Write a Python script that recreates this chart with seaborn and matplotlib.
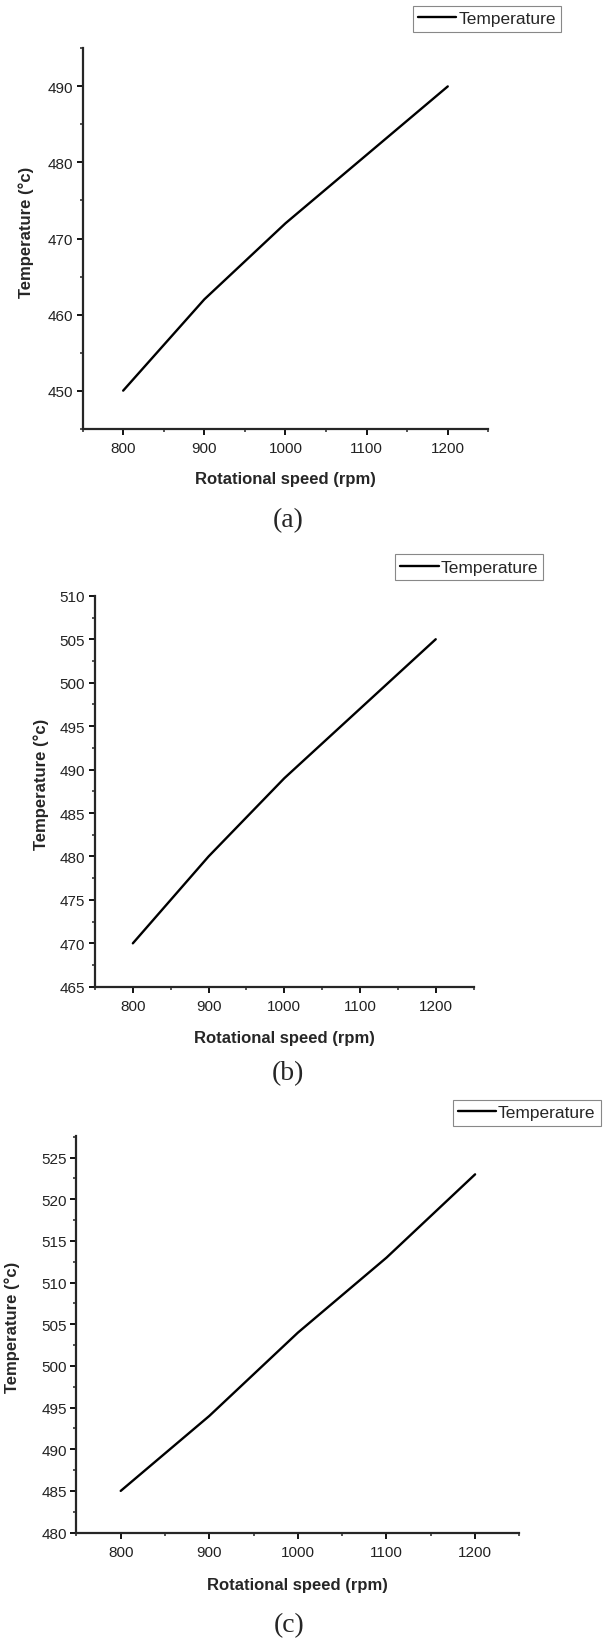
import pandas as pd
import matplotlib
matplotlib.use("Agg")
import matplotlib.pyplot as plt
from matplotlib.ticker import MultipleLocator
import seaborn as sns

# Data
speed = [800, 900, 1000, 1100, 1200]
temp_a = [450, 462, 472, 481, 490]
temp_b = [470, 480, 489, 497, 505]
temp_c = [485, 494, 504, 513, 523]

captions = ["(a)", "(b)", "(c)"]
ylims = [(445, 495), (465, 510), (480, 527.6)]
ymajor = [10, 5, 5]

sns.set_style("ticks")
plt.rcParams["font.family"] = ["Liberation Sans", "DejaVu Sans"]

fig = plt.figure(figsize=(6.05, 16.4), dpi=100)

# axes rectangles in figure fractions, legend anchors, caption y
rects = [[0.1365, 0.7380, 0.6707, 0.2319],
         [0.1570, 0.3977, 0.6258, 0.2384],
         [0.1263, 0.0649, 0.7322, 0.2418]]
leg_anchor = [(0.927, 0.9957), (0.8975, 0.6613), (0.993, 0.3287)]
cap_pos = [(0.476, 1 - 521 / 1640), (0.476, 1 - 1074 / 1640), (0.478, 1 - 1626 / 1640)]
ylab_x = [-0.139, -0.141, -0.1445]
ylab_y = [0.52, 0.52, 0.52]

for i, temps in enumerate([temp_a, temp_b, temp_c]):
    df = pd.DataFrame({"Rotational speed (rpm)": speed, "Temperature": temps})
    ax = fig.add_axes(rects[i])
    sns.lineplot(data=df, x="Rotational speed (rpm)", y="Temperature",
                 color="black", linewidth=1.7, ax=ax, label="Temperature")

    ax.set_xlim(750, 1250)
    ax.set_ylim(*ylims[i])
    ax.xaxis.set_major_locator(MultipleLocator(100))
    ax.xaxis.set_minor_locator(MultipleLocator(50))
    ax.yaxis.set_major_locator(MultipleLocator(ymajor[i]))
    ax.yaxis.set_minor_locator(MultipleLocator(ymajor[i] / 2))

    sns.despine(ax=ax)
    for s in ["left", "bottom"]:
        ax.spines[s].set_linewidth(1.6)
    ax.tick_params(which="major", direction="out", length=4, width=1.3,
                   labelsize=11, pad=3, colors="black", labelcolor="#222222")
    ax.tick_params(which="minor", direction="out", length=2.5, width=1.1)
    ax.tick_params(axis="x", which="major", pad=5)

    ax.set_xlabel("Rotational speed (rpm)", fontsize=12, fontweight="bold", va="center")
    ax.set_ylabel("Temperature (°c)", fontsize=12, fontweight="bold", va="center")
    ax.xaxis.set_label_coords(0.5, -0.13)
    ax.yaxis.set_label_coords(ylab_x[i], ylab_y[i])

    leg = ax.legend(loc="upper right", bbox_to_anchor=leg_anchor[i],
                    bbox_transform=fig.transFigure, fontsize=12.5,
                    frameon=True, fancybox=False, framealpha=1,
                    edgecolor="#888888", borderpad=0.3, handlelength=2.2,
                    handletextpad=0.1, borderaxespad=0)
    leg.get_frame().set_linewidth(0.8)

    fig.text(cap_pos[i][0], cap_pos[i][1], captions[i], ha="center", va="center",
             fontsize=20, family=["Liberation Serif", "DejaVu Serif"])

fig.savefig("out.png", dpi=100)
